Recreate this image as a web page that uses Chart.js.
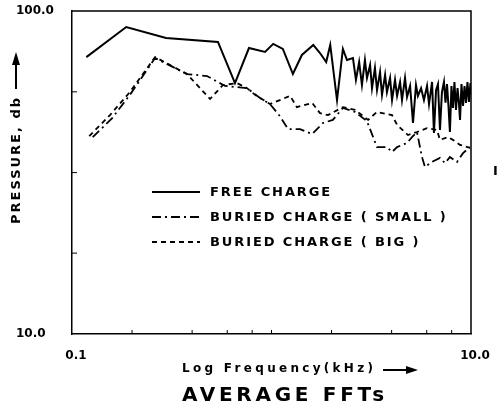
<!DOCTYPE html>
<html>
<head>
<meta charset="utf-8">
<script src="https://cdn.jsdelivr.net/npm/chart.js@4.4.1/dist/chart.umd.min.js"></script>
<style>
html,body{margin:0;padding:0;background:#fff;}
</style>
</head>
<body>
<canvas id="myChart" width="498" height="409"></canvas>
<script>
// values (frequency in kHz, pressure in db)
const freeFreq=[0.118,0.187,0.296,0.539,0.656,0.771,0.928,1.02,1.14,1.28,1.42,1.62,1.75,1.88,1.97,2.13,2.28,2.39,2.56,2.65,2.75,2.84,2.94,3.01,3.12,3.19,3.30,3.38,3.50,3.58,3.71,3.79,3.93,4.02,4.16,4.26,4.41,4.51,4.67,4.78,4.95,5.12,5.30,5.42,5.62,5.81,6.02,6.16,6.38,6.52,6.68,6.83,6.99,7.15,7.32,7.45,7.58,7.71,7.84,7.98,8.12,8.26,8.41,8.56,8.71,8.81,8.96,9.12,9.28,9.44,9.60,9.77,9.94,10.0];
const freeDb=[72.0,89.2,82.5,80.2,59.8,76.8,74.7,79.1,76.3,63.8,73.1,78.5,74.1,69.5,78.5,53.0,76.3,70.5,71.5,61.2,69.5,59.0,70.5,62.0,68.0,57.7,66.6,56.9,64.7,55.0,63.4,56.1,62.0,53.0,61.2,54.6,60.3,53.0,62.0,54.2,58.6,45.0,59.0,54.6,57.7,53.0,58.6,51.5,60.3,41.9,56.9,59.4,42.8,56.1,60.3,52.0,59.4,50.8,42.2,58.6,50.1,60.3,49.4,57.7,51.5,46.0,59.4,50.8,58.6,51.9,60.3,52.3,59.8,55.0];

const smallFreq=[0.127,0.159,0.195,0.261,0.377,0.475,0.585,0.754,0.876,0.983,1.10,1.21,1.39,1.60,1.81,2.03,2.28,2.62,3.01,3.38,3.79,4.02,4.26,4.51,4.78,5.06,5.36,5.68,5.88,6.38,6.99,7.41,7.84,8.51,9.12,9.89];
const smallDb=[40.7,46.6,55.0,71.5,63.8,62.9,58.6,57.7,53.8,51.5,47.3,43.1,43.1,41.6,45.0,46.0,50.1,48.7,45.6,37.9,37.9,36.6,37.9,38.5,39.0,40.7,42.2,35.3,32.9,34.1,35.1,33.8,35.3,34.1,36.3,37.9];

const bigFreq=[0.122,0.155,0.195,0.261,0.377,0.492,0.571,0.672,0.754,0.827,0.983,1.24,1.34,1.60,1.75,1.92,2.28,2.62,3.05,3.38,4.02,4.26,4.83,5.36,6.02,6.75,6.99,7.67,8.12,8.81,9.89];
const bigDb=[41.0,47.6,56.1,72.0,63.8,53.4,59.0,59.8,57.7,55.0,51.5,54.6,50.4,51.9,48.3,47.6,50.4,49.4,46.0,48.7,47.6,44.4,41.3,42.2,43.4,42.8,39.9,40.7,39.9,38.5,37.7];

const seriesNames=['FREE CHARGE','BURIED CHARGE ( SMALL )','BURIED CHARGE ( BIG )'];
const xTicks=[0.1,10];
const xTickText=['0.1','10.0'];
const yTicks=[10,100];
const yTickText=['10.0','100.0'];
const xMinorTicks=[0.2,0.4,0.6,0.8,1,2,4,6,8];
const yMinorTicks=[17.8,31.6,56.2];

function pts(xs,ys){
    return xs.map((v,i)=>({x:v,y:ys[i]}));
}

// frame, little ticks, legend and titles
const decor={
    id:'decor',
    afterDraw(chart){
        const ctx=chart.ctx;
        const a=chart.chartArea;
        const x=chart.scales.x, y=chart.scales.y;
        ctx.save();
        ctx.strokeStyle='#000';
        ctx.fillStyle='#000';
        ctx.lineWidth=1.5;
        ctx.beginPath();
        ctx.moveTo(a.left,a.top);
        ctx.lineTo(a.right,a.top);
        ctx.lineTo(a.right,a.bottom);
        ctx.stroke();
        ctx.lineWidth=1;
        xMinorTicks.forEach(v=>{
            const px=x.getPixelForValue(v);
            ctx.beginPath();ctx.moveTo(px,a.bottom);ctx.lineTo(px,a.bottom-4);ctx.stroke();
        });
        yMinorTicks.forEach(v=>{
            const py=y.getPixelForValue(v);
            ctx.beginPath();ctx.moveTo(a.left,py);ctx.lineTo(a.left+5,py);ctx.stroke();
        });

        // legend
        ctx.font='bold 13px "DejaVu Sans"';
        ctx.letterSpacing='1.9px';
        ctx.textBaseline='middle';
        ctx.textAlign='left';
        chart.data.datasets.forEach((ds,i)=>{
            const ly=192+i*25;
            ctx.setLineDash(ds.borderDash||[]);
            ctx.lineWidth=ds.borderWidth;
            ctx.beginPath();ctx.moveTo(152,ly);ctx.lineTo(200,ly);ctx.stroke();
            ctx.setLineDash([]);
            ctx.fillText(seriesNames[i],210,ly+1);
        });

        // y title with arrow
        ctx.save();
        ctx.translate(17,160);
        ctx.rotate(-Math.PI/2);
        ctx.textAlign='center';
        ctx.font='bold 13px "DejaVu Sans"';
        ctx.letterSpacing='2px';
        ctx.fillText('PRESSURE, db',0,0);
        ctx.restore();
        ctx.lineWidth=2;
        ctx.beginPath();ctx.moveTo(16,89);ctx.lineTo(16,62);ctx.stroke();
        ctx.beginPath();ctx.moveTo(16,52);ctx.lineTo(12,65);ctx.lineTo(20,65);ctx.closePath();ctx.fill();

        // x title with arrow
        ctx.font='bold 12px "DejaVu Sans"';
        ctx.letterSpacing='3.3px';
        ctx.fillText('Log Frequency(kHz)',182,369);
        ctx.beginPath();ctx.moveTo(383,370);ctx.lineTo(408,370);ctx.stroke();
        ctx.beginPath();ctx.moveTo(418,370);ctx.lineTo(406,366);ctx.lineTo(406,374);ctx.closePath();ctx.fill();

        // chart title
        ctx.font='bold 20px "DejaVu Sans"';
        ctx.letterSpacing='3.7px';
        ctx.fillText('AVERAGE FFTs',182,396);

        // stray mark at the right edge
        ctx.font='bold 13px "DejaVu Sans"';
        ctx.letterSpacing='0px';
        ctx.fillText('I',493,172);
        ctx.restore();
    }
};

const ctx=document.getElementById('myChart').getContext('2d');
const myChart=new Chart(ctx,{
    type:'line',
    data:{
        datasets:[{
            data:pts(freeFreq,freeDb),
            borderColor:'#000',
            borderWidth:2,
            borderDash:[]
        },{
            data:pts(smallFreq,smallDb),
            borderColor:'#000',
            borderWidth:1.8,
            borderDash:[9,4,2,4]
        },{
            data:pts(bigFreq,bigDb),
            borderColor:'#000',
            borderWidth:1.8,
            borderDash:[5,4]
        }]
    },
    options:{
        responsive:false,
        animation:false,
        layout:{padding:{top:11,right:27,left:16,bottom:0}},
        elements:{point:{radius:0},line:{tension:0}},
        plugins:{
            legend:{display:false},
            tooltip:{enabled:false}
        },
        scales:{
            x:{
                type:'logarithmic',
                min:0.1,
                max:10,
                afterBuildTicks:s=>{s.ticks=xTicks.map(v=>({value:v}));},
                afterFit:s=>{s.height=75;s.paddingLeft=0;s.paddingRight=0;},
                grid:{display:false,drawTicks:false},
                border:{color:'#000',width:1.5},
                ticks:{
                    color:'#000',
                    font:{family:'DejaVu Sans',weight:'bold',size:12},
                    padding:15,
                    labelOffset:4,
                    maxRotation:0,
                    autoSkip:false,
                    callback:(v,i)=>xTickText[i]
                }
            },
            y:{
                type:'logarithmic',
                min:10,
                max:100,
                afterBuildTicks:s=>{s.ticks=yTicks.map(v=>({value:v}));},
                afterFit:s=>{s.width=56;s.paddingTop=0;s.paddingBottom=0;},
                grid:{display:false,drawTicks:false},
                border:{color:'#000',width:1.5},
                ticks:{
                    color:'#000',
                    font:{family:'DejaVu Sans',weight:'bold',size:12},
                    crossAlign:'far',
                    autoSkip:false,
                    callback:(v,i)=>yTickText[i]
                }
            }
        }
    },
    plugins:[decor]
});
</script>
</body>
</html>
